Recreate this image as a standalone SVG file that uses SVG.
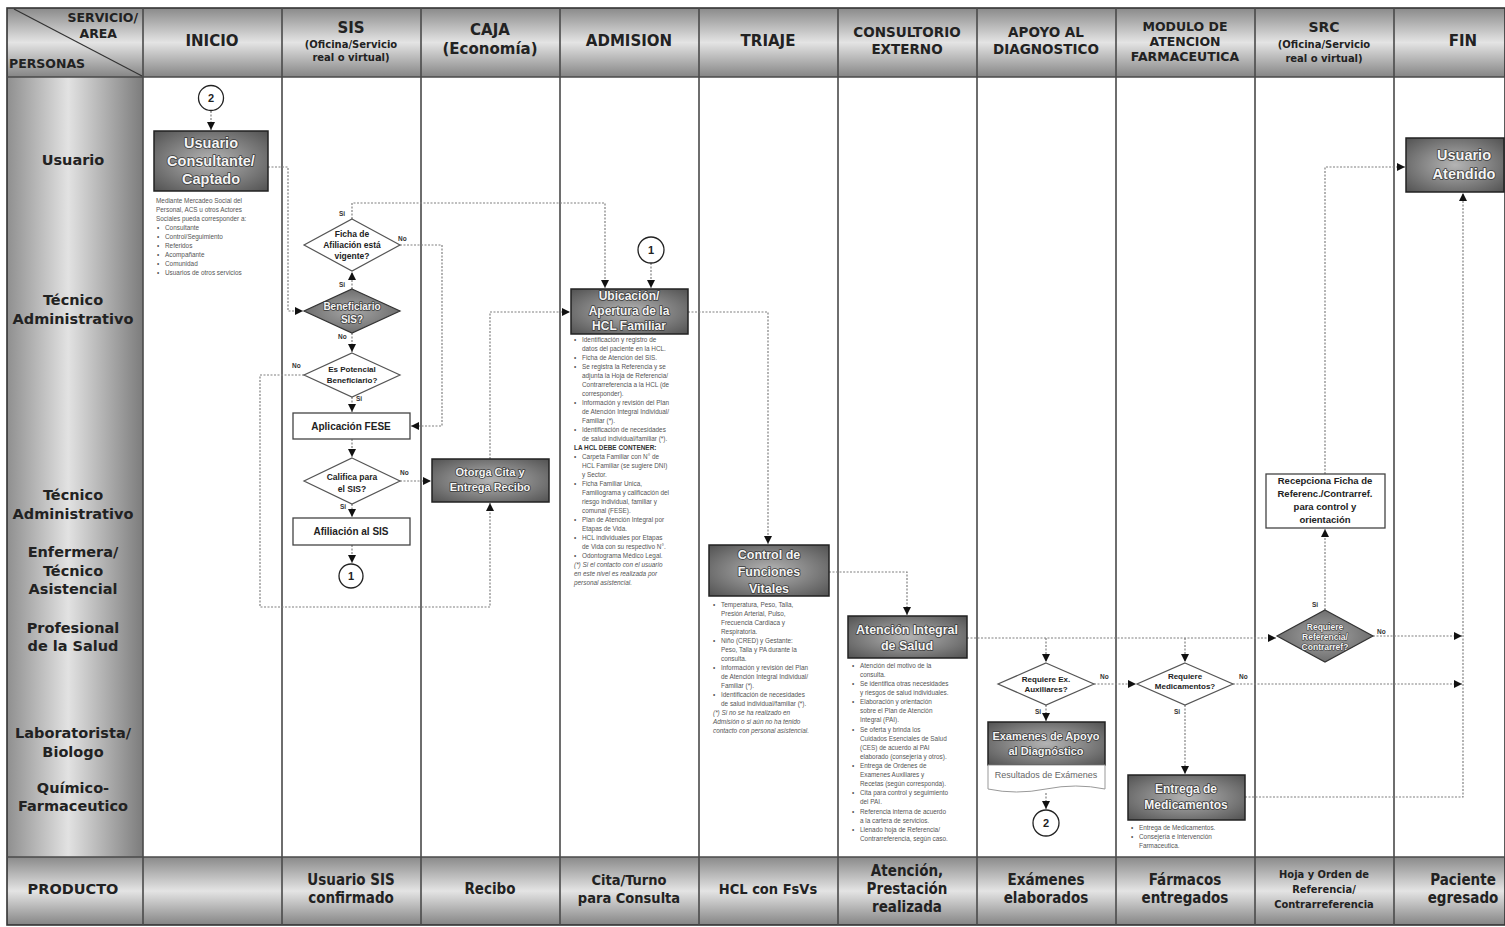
<svg xmlns="http://www.w3.org/2000/svg" width="1505" height="927" viewBox="0 0 1505 927">
<defs>
<linearGradient id="hdr" x1="0" y1="0" x2="0" y2="1">
<stop offset="0" stop-color="#8a8a8a"/><stop offset="0.5" stop-color="#e4e4e4"/><stop offset="1" stop-color="#858585"/>
</linearGradient>
<linearGradient id="leftg" x1="0" y1="0" x2="1" y2="0">
<stop offset="0" stop-color="#8f8f8f"/><stop offset="0.45" stop-color="#e2e2e2"/><stop offset="1" stop-color="#7c7c7c"/>
</linearGradient>
<radialGradient id="boxg" cx="0.5" cy="0.5" r="0.7">
<stop offset="0" stop-color="#b4b4b4"/><stop offset="1" stop-color="#525252"/>
</radialGradient>
<radialGradient id="diag" cx="0.5" cy="0.5" r="0.6">
<stop offset="0" stop-color="#a6a6a6"/><stop offset="1" stop-color="#646464"/>
</radialGradient>
<marker id="ar" markerUnits="userSpaceOnUse" markerWidth="9" markerHeight="9" refX="8" refY="4.5" orient="auto">
<path d="M0,0.5 L8,4.5 L0,8.5 z" fill="#111"/>
</marker>
<style>
.hd{font-family:"DejaVu Sans",sans-serif;font-weight:bold;fill:#222;text-anchor:middle}
.rl{font-family:"DejaVu Sans",sans-serif;font-weight:bold;fill:#222;text-anchor:middle;font-size:14.5px}
.pr{font-family:"DejaVu Sans Condensed","DejaVu Sans",sans-serif;font-weight:bold;fill:#222;text-anchor:middle}
.lane{stroke:#4a4a4a;stroke-width:1.6;fill:none}
.dk{fill:url(#boxg);stroke:#222;stroke-width:1.5}
.wb{fill:#fff;stroke:#444;stroke-width:1.3}
.dd{fill:url(#diag);stroke:#333;stroke-width:1.2}
.wd{fill:#fff;stroke:#555;stroke-width:1.2}
.bt{font-family:"Liberation Sans",Arial,sans-serif;font-weight:bold;fill:#f4f4f4;text-anchor:middle;stroke:#3a3a3a;stroke-width:1.6px;paint-order:stroke;stroke-linejoin:round}
.wt{font-family:"Liberation Sans",Arial,sans-serif;font-weight:bold;fill:#222;text-anchor:middle}
.lb{font-family:"Liberation Sans",Arial,sans-serif;font-weight:bold;fill:#333;font-size:6.5px}
.nt{font-family:"Liberation Sans",Arial,sans-serif;fill:#555;font-size:6.4px}
.ci{fill:#fff;stroke:#222;stroke-width:1.3}
.cn{font-family:"Liberation Sans",Arial,sans-serif;font-weight:bold;fill:#222;text-anchor:middle;font-size:11px}
.cx{fill:none;stroke:#808080;stroke-width:1.2;stroke-dasharray:2 1.5}
</style>
</defs>
<rect x="0" y="0" width="1505" height="927" fill="#fff"/>

<g id="table">
<rect x="7" y="8" width="1498" height="69" fill="url(#hdr)"/>
<rect x="7" y="857" width="1498" height="68" fill="url(#hdr)"/>
<rect x="7" y="77" width="136" height="780" fill="url(#leftg)"/>
<rect x="7" y="8" width="1498" height="917" fill="none" stroke="#333" stroke-width="1.6"/>
<line x1="7" y1="77" x2="1505" y2="77" class="lane" stroke-width="2.5"/>
<line x1="7" y1="857" x2="1505" y2="857" class="lane" stroke-width="2.5"/>
<line x1="143" y1="8" x2="143" y2="925" class="lane"/>
<line x1="282" y1="8" x2="282" y2="925" class="lane"/>
<line x1="421" y1="8" x2="421" y2="925" class="lane"/>
<line x1="560" y1="8" x2="560" y2="925" class="lane"/>
<line x1="699" y1="8" x2="699" y2="925" class="lane"/>
<line x1="838" y1="8" x2="838" y2="925" class="lane"/>
<line x1="977" y1="8" x2="977" y2="925" class="lane"/>
<line x1="1116" y1="8" x2="1116" y2="925" class="lane"/>
<line x1="1255" y1="8" x2="1255" y2="925" class="lane"/>
<line x1="1394" y1="8" x2="1394" y2="925" class="lane"/>
<line x1="14" y1="9" x2="142" y2="76" stroke="#333" stroke-width="1.2"/>
<text class="hd" x="138" y="22" font-size="12.5" style="text-anchor:end">SERVICIO/</text>
<text class="hd" x="117" y="38" font-size="12.5" style="text-anchor:end">AREA</text>
<text class="hd" x="9" y="68" font-size="12.5" style="text-anchor:start">PERSONAS</text>
<text class="hd" x="212" y="46" font-size="15">INICIO</text>
<text class="hd" x="351" y="33" font-size="15">SIS</text>
<text class="hd" x="351" y="48" font-size="10">(Oficina/Servicio</text>
<text class="hd" x="351" y="61" font-size="10">real o virtual)</text>
<text class="hd" x="490" y="35" font-size="15">CAJA</text>
<text class="hd" x="490" y="54" font-size="15">(Economía)</text>
<text class="hd" x="629" y="46" font-size="15">ADMISION</text>
<text class="hd" x="768" y="46" font-size="15">TRIAJE</text>
<text class="hd" x="907" y="37" font-size="13.5">CONSULTORIO</text>
<text class="hd" x="907" y="54" font-size="13.5">EXTERNO</text>
<text class="hd" x="1046" y="37" font-size="13.5">APOYO AL</text>
<text class="hd" x="1046" y="54" font-size="13.5">DIAGNOSTICO</text>
<text class="hd" x="1185" y="31" font-size="12.5">MODULO DE</text>
<text class="hd" x="1185" y="46" font-size="12.5">ATENCION</text>
<text class="hd" x="1185" y="61" font-size="12.5">FARMACEUTICA</text>
<text class="hd" x="1324" y="32" font-size="14">SRC</text>
<text class="hd" x="1324" y="48" font-size="10">(Oficina/Servicio</text>
<text class="hd" x="1324" y="62" font-size="10">real o virtual)</text>
<text class="hd" x="1463" y="46" font-size="15">FIN</text>

<text class="rl" x="73" y="165">Usuario</text>
<text class="rl" x="73" y="305">Técnico</text>
<text class="rl" x="73" y="324">Administrativo</text>
<text class="rl" x="73" y="500">Técnico</text>
<text class="rl" x="73" y="519">Administrativo</text>
<text class="rl" x="73" y="557">Enfermera/</text>
<text class="rl" x="73" y="576">Técnico</text>
<text class="rl" x="73" y="594">Asistencial</text>
<text class="rl" x="73" y="633">Profesional</text>
<text class="rl" x="73" y="651">de la Salud</text>
<text class="rl" x="73" y="738">Laboratorista/</text>
<text class="rl" x="73" y="757">Biologo</text>
<text class="rl" x="73" y="793">Químico-</text>
<text class="rl" x="73" y="811">Farmaceutico</text>

<text class="hd" x="73" y="894" font-size="14.5">PRODUCTO</text>
<text class="pr" x="351" y="885" font-size="15">Usuario SIS</text>
<text class="pr" x="351" y="903" font-size="15">confirmado</text>
<text class="pr" x="490" y="894" font-size="15">Recibo</text>
<text class="pr" x="629" y="885" font-size="14.5">Cita/Turno</text>
<text class="pr" x="629" y="903" font-size="14.5">para Consulta</text>
<text class="pr" x="768" y="894" font-size="14.5">HCL con FsVs</text>
<text class="pr" x="907" y="876" font-size="15">Atención,</text>
<text class="pr" x="907" y="894" font-size="15">Prestación</text>
<text class="pr" x="907" y="912" font-size="15">realizada</text>
<text class="pr" x="1046" y="885" font-size="15">Exámenes</text>
<text class="pr" x="1046" y="903" font-size="15">elaborados</text>
<text class="pr" x="1185" y="885" font-size="15">Fármacos</text>
<text class="pr" x="1185" y="903" font-size="15">entregados</text>
<text class="pr" x="1324" y="878" font-size="11">Hoja y Orden de</text>
<text class="pr" x="1324" y="893" font-size="11">Referencia/</text>
<text class="pr" x="1324" y="908" font-size="11">Contrarreferencia</text>
<text class="pr" x="1463" y="885" font-size="15">Paciente</text>
<text class="pr" x="1463" y="903" font-size="15">egresado</text>
</g>

<g id="connectors">
<path class="cx" d="M211,111 V130" marker-end="url(#ar)"/>
<path class="cx" d="M268,167 H288 V311 H303" marker-end="url(#ar)"/>
<path class="cx" d="M352,219 V203 H605 V288" marker-end="url(#ar)"/>
<path class="cx" d="M400,245 H442 V426 H411" marker-end="url(#ar)"/>
<path class="cx" d="M352,289 V272" marker-end="url(#ar)"/>
<path class="cx" d="M352,333 V352" marker-end="url(#ar)"/>
<path class="cx" d="M304,375 H260 V607 H490 V503" marker-end="url(#ar)"/>
<path class="cx" d="M352,397 V412" marker-end="url(#ar)"/>
<path class="cx" d="M352,439 V457" marker-end="url(#ar)"/>
<path class="cx" d="M400,481 H431" marker-end="url(#ar)"/>
<path class="cx" d="M352,504 V517" marker-end="url(#ar)"/>
<path class="cx" d="M352,545 V563" marker-end="url(#ar)"/>
<path class="cx" d="M490,459 V312 H570" marker-end="url(#ar)"/>
<path class="cx" d="M651,263 V288" marker-end="url(#ar)"/>
<path class="cx" d="M688,312 H768 V544" marker-end="url(#ar)"/>
<path class="cx" d="M829,572 H907 V615" marker-end="url(#ar)"/>
<path class="cx" d="M967,638 H1276" marker-end="url(#ar)"/>
<path class="cx" d="M1046,638 V662" marker-end="url(#ar)"/>
<path class="cx" d="M1185,638 V662" marker-end="url(#ar)"/>
<path class="cx" d="M1094,684 H1136" marker-end="url(#ar)"/>
<path class="cx" d="M1046,705 V721" marker-end="url(#ar)"/>
<path class="cx" d="M1046,793 V809" marker-end="url(#ar)"/>
<path class="cx" d="M1233,684 H1462" marker-end="url(#ar)"/>
<path class="cx" d="M1185,705 V774" marker-end="url(#ar)"/>
<path class="cx" d="M1245,797 H1463 V193" marker-end="url(#ar)"/>
<path class="cx" d="M1373,636 H1462" marker-end="url(#ar)"/>
<path class="cx" d="M1325,610 V529" marker-end="url(#ar)"/>
<path class="cx" d="M1325,474 V167 H1405" marker-end="url(#ar)"/>
<text class="lb" x="339" y="216">Si</text>
<text class="lb" x="398" y="241">No</text>
<text class="lb" x="339" y="287">Si</text>
<text class="lb" x="338" y="339">No</text>
<text class="lb" x="292" y="368">No</text>
<text class="lb" x="356" y="401">Si</text>
<text class="lb" x="400" y="475">No</text>
<text class="lb" x="340" y="509">Si</text>
<text class="lb" x="1100" y="679">No</text>
<text class="lb" x="1035" y="714">Si</text>
<text class="lb" x="1239" y="679">No</text>
<text class="lb" x="1174" y="714">Si</text>
<text class="lb" x="1312" y="607">Si</text>
<text class="lb" x="1377" y="634">No</text>
</g>

<g id="circle-2-top">
<circle class="ci" cx="211" cy="98" r="12.5"/>
<text class="cn" x="211" y="102">2</text>
</g>

<g id="usuario-consultante">
<rect class="dk" x="154" y="131" width="114" height="60"/>
<text class="bt" x="211" y="148" font-size="14.5">Usuario</text>
<text class="bt" x="211" y="166" font-size="14.5">Consultante/</text>
<text class="bt" x="211" y="184" font-size="14.5">Captado</text>
<text class="nt" x="156" y="203">Mediante Mercadeo Social del</text>
<text class="nt" x="156" y="212">Personal, ACS u otros Actores</text>
<text class="nt" x="156" y="221">Sociales pueda corresponder a:</text>
<text class="nt" x="157" y="230">• <tspan x="165">Consultante</tspan></text>
<text class="nt" x="157" y="239">• <tspan x="165">Control/Seguimiento</tspan></text>
<text class="nt" x="157" y="248">• <tspan x="165">Referidos</tspan></text>
<text class="nt" x="157" y="257">• <tspan x="165">Acompañante</tspan></text>
<text class="nt" x="157" y="266">• <tspan x="165">Comunidad</tspan></text>
<text class="nt" x="157" y="275">• <tspan x="165">Usuarios de otros servicios</tspan></text>
</g>

<g id="ficha-afiliacion">
<polygon class="wd" points="352,219 400,245 352,271 304,245"/>
<text class="wt" x="352" y="237" font-size="8.5">Ficha de</text>
<text class="wt" x="352" y="248" font-size="8.5">Afiliación está</text>
<text class="wt" x="352" y="259" font-size="8.5">vigente?</text>
</g>

<g id="beneficiario-sis">
<polygon class="dd" points="352,289 400,311 352,333 304,311"/>
<text class="bt" x="352" y="310" font-size="10">Beneficiario</text>
<text class="bt" x="352" y="323" font-size="10">SIS?</text>
</g>

<g id="es-potencial">
<polygon class="wd" points="352,353 400,375 352,397 304,375"/>
<text class="wt" x="352" y="372" font-size="8">Es Potencial</text>
<text class="wt" x="352" y="383" font-size="8">Beneficiario?</text>
</g>

<g id="aplicacion-fese">
<rect class="wb" x="293" y="413" width="117" height="26"/>
<text class="wt" x="351" y="430" font-size="10">Aplicación FESE</text>
</g>

<g id="califica-sis">
<polygon class="wd" points="352,458 400,481 352,504 304,481"/>
<text class="wt" x="352" y="480" font-size="8.5">Califica para</text>
<text class="wt" x="352" y="492" font-size="8.5">el SIS?</text>
</g>

<g id="afiliacion-sis">
<rect class="wb" x="293" y="518" width="117" height="27"/>
<text class="wt" x="351" y="535" font-size="10">Afiliación al SIS</text>
</g>

<g id="circle-1-sis">
<circle class="ci" cx="351" cy="576" r="12"/>
<text class="cn" x="351" y="580">1</text>
</g>

<g id="otorga-cita">
<rect class="dk" x="432" y="459" width="117" height="43"/>
<text class="bt" x="490" y="476" font-size="11">Otorga Cita y</text>
<text class="bt" x="490" y="491" font-size="11">Entrega Recibo</text>
</g>

<g id="circle-1-admision">
<circle class="ci" cx="651" cy="250" r="13"/>
<text class="cn" x="651" y="254">1</text>
</g>

<g id="ubicacion-hcl">
<rect class="dk" x="571" y="289" width="117" height="45"/>
<text class="bt" x="629" y="300" font-size="12">Ubicación/</text>
<text class="bt" x="629" y="315" font-size="12">Apertura de la</text>
<text class="bt" x="629" y="330" font-size="12">HCL Familiar</text>
<g class="nt">
<text x="574" y="342">• <tspan x="582">Identificación y registro de</tspan></text>
<text x="582" y="351">datos del paciente en la HCL.</text>
<text x="574" y="360">• <tspan x="582">Ficha de Atención del SIS.</tspan></text>
<text x="574" y="369">• <tspan x="582">Se registra la Referencia y se</tspan></text>
<text x="582" y="378">adjunta la Hoja de Referencia/</text>
<text x="582" y="387">Contrarreferencia a la HCL (de</text>
<text x="582" y="396">corresponder).</text>
<text x="574" y="405">• <tspan x="582">Información y revisión del Plan</tspan></text>
<text x="582" y="414">de Atención Integral Individual/</text>
<text x="582" y="423">Familiar (*).</text>
<text x="574" y="432">• <tspan x="582">Identificación de necesidades</tspan></text>
<text x="582" y="441">de salud individual/familiar (*).</text>
<text x="574" y="450" font-weight="bold" fill="#333">LA HCL DEBE CONTENER:</text>
<text x="574" y="459">• <tspan x="582">Carpeta Familiar con N° de</tspan></text>
<text x="582" y="468">HCL Familiar (se sugiere DNI)</text>
<text x="582" y="477">y Sector.</text>
<text x="574" y="486">• <tspan x="582">Ficha Familiar Unica,</tspan></text>
<text x="582" y="495">Familiograma y calificación del</text>
<text x="582" y="504">riesgo individual, familiar y</text>
<text x="582" y="513">comunal (FESE).</text>
<text x="574" y="522">• <tspan x="582">Plan de Atención Integral por</tspan></text>
<text x="582" y="531">Etapas de Vida.</text>
<text x="574" y="540">• <tspan x="582">HCL individuales por Etapas</tspan></text>
<text x="582" y="549">de Vida con su respectivo N°.</text>
<text x="574" y="558">• <tspan x="582">Odontograma Médico Legal.</tspan></text>
<text x="574" y="567" font-style="italic">(*) Si el contacto con el usuario</text>
<text x="574" y="576" font-style="italic">en este nivel es realizada por</text>
<text x="574" y="585" font-style="italic">personal asistencial.</text>
</g>
</g>

<g id="control-funciones">
<rect class="dk" x="709" y="545" width="120" height="51"/>
<text class="bt" x="769" y="559" font-size="12.5">Control de</text>
<text class="bt" x="769" y="576" font-size="12.5">Funciones</text>
<text class="bt" x="769" y="593" font-size="12.5">Vitales</text>
<g class="nt">
<text x="713" y="607">• <tspan x="721">Temperatura, Peso, Talla,</tspan></text>
<text x="721" y="616">Presión Arterial, Pulso,</text>
<text x="721" y="625">Frecuencia Cardiaca y</text>
<text x="721" y="634">Respiratoria.</text>
<text x="713" y="643">• <tspan x="721">Niño  (CRED) y Gestante:</tspan></text>
<text x="721" y="652">Peso, Talla y PA durante la</text>
<text x="721" y="661">consulta.</text>
<text x="713" y="670">• <tspan x="721">Información y revisión del Plan</tspan></text>
<text x="721" y="679">de Atención Integral Individual/</text>
<text x="721" y="688">Familiar (*).</text>
<text x="713" y="697">• <tspan x="721">Identificación de necesidades</tspan></text>
<text x="721" y="706">de salud individual/familiar (*).</text>
<text x="713" y="715" font-style="italic">(*) Si no se ha realizado en</text>
<text x="713" y="724" font-style="italic">Admisión o si aún no ha tenido</text>
<text x="713" y="733" font-style="italic">contacto con personal asistencial.</text>
</g>
</g>

<g id="atencion-integral">
<rect class="dk" x="848" y="616" width="119" height="42"/>
<text class="bt" x="907" y="634" font-size="12.5">Atención Integral</text>
<text class="bt" x="907" y="650" font-size="12.5">de Salud</text>
<g class="nt">
<text x="852" y="668">• <tspan x="860">Atención del motivo de la</tspan></text>
<text x="860" y="677">consulta.</text>
<text x="852" y="686">• <tspan x="860">Se identifica otras necesidades</tspan></text>
<text x="860" y="695">y riesgos de salud individuales.</text>
<text x="852" y="704">• <tspan x="860">Elaboración y orientación</tspan></text>
<text x="860" y="713">sobre el Plan de Atención</text>
<text x="860" y="722">Integral (PAI).</text>
<text x="852" y="732">• <tspan x="860">Se oferta y brinda los</tspan></text>
<text x="860" y="741">Cuidados Esenciales de Salud</text>
<text x="860" y="750">(CES) de acuerdo al PAI</text>
<text x="860" y="759">elaborado (consejería y otros).</text>
<text x="852" y="768">• <tspan x="860">Entrega de Ordenes de</tspan></text>
<text x="860" y="777">Examenes Auxiliares y</text>
<text x="860" y="786">Recetas (según corresponda).</text>
<text x="852" y="795">• <tspan x="860">Cita para control y seguimiento</tspan></text>
<text x="860" y="804">del PAI.</text>
<text x="852" y="814">• <tspan x="860">Referencia interna de acuerdo</tspan></text>
<text x="860" y="823">a la cartera de servicios.</text>
<text x="852" y="832">• <tspan x="860">Llenado hoja de Referencia/</tspan></text>
<text x="860" y="841">Contrarreferencia, según caso.</text>
</g>
</g>

<g id="requiere-ex">
<polygon class="wd" points="1046,663 1094,684 1046,705 998,684"/>
<text class="wt" x="1046" y="682" font-size="8">Requiere Ex.</text>
<text class="wt" x="1046" y="692" font-size="8">Auxiliares?</text>
</g>

<g id="examenes-apoyo">
<rect class="dk" x="988" y="722" width="117" height="43"/>
<text class="bt" x="1046" y="740" font-size="11">Examenes de Apoyo</text>
<text class="bt" x="1046" y="755" font-size="11">al Diagnóstico</text>
<path d="M988,765 H1105 V789 Q1076,783 1046,789 T988,789 Z" fill="#fff" stroke="#999" stroke-width="1"/>
<text x="1046" y="778" font-family="Liberation Sans,Arial,sans-serif" font-size="9" fill="#666" text-anchor="middle">Resultados de Exámenes</text>
</g>

<g id="circle-2-apoyo">
<circle class="ci" cx="1046" cy="823" r="13"/>
<text class="cn" x="1046" y="827">2</text>
</g>

<g id="requiere-medicamentos">
<polygon class="wd" points="1185,663 1233,684 1185,705 1137,684"/>
<text class="wt" x="1185" y="679" font-size="8">Requiere</text>
<text class="wt" x="1185" y="689" font-size="8">Medicamentos?</text>
</g>

<g id="entrega-medicamentos">
<rect class="dk" x="1128" y="775" width="117" height="45"/>
<text class="bt" x="1186" y="793" font-size="12">Entrega de</text>
<text class="bt" x="1186" y="809" font-size="12">Medicamentos</text>
<g class="nt">
<text x="1131" y="830">• <tspan x="1139">Entrega de Medicamentos.</tspan></text>
<text x="1131" y="839">• <tspan x="1139">Consejería e Intervención</tspan></text>
<text x="1139" y="848">Farmaceutica.</text>
</g>
</g>

<g id="requiere-referencia">
<polygon class="dd" points="1325,610 1373,636 1325,662 1277,636"/>
<text class="bt" x="1325" y="630" font-size="8.5" style="stroke-width:1.2px">Requiere</text>
<text class="bt" x="1325" y="640" font-size="8.5" style="stroke-width:1.2px">Referencia/</text>
<text class="bt" x="1325" y="650" font-size="8.5" style="stroke-width:1.2px">Contrarref?</text>
</g>

<g id="recepciona-ficha">
<rect class="wb" x="1266" y="474" width="119" height="54"/>
<text class="wt" x="1325" y="484" font-size="9.5">Recepciona Ficha de</text>
<text class="wt" x="1325" y="497" font-size="9.5">Referenc./Contrarref.</text>
<text class="wt" x="1325" y="510" font-size="9.5">para control y</text>
<text class="wt" x="1325" y="523" font-size="9.5">orientación</text>
</g>

<g id="usuario-atendido">
<rect class="dk" x="1406" y="138" width="98" height="54"/>
<text class="bt" x="1464" y="160" font-size="14.5">Usuario</text>
<text class="bt" x="1464" y="179" font-size="14.5">Atendido</text>
</g>
</svg>
